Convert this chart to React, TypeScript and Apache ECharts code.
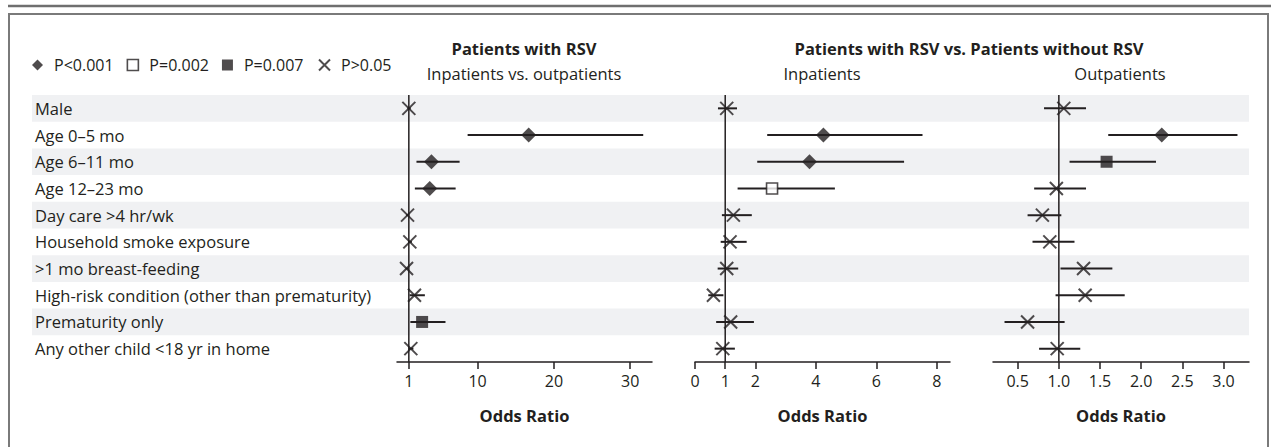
import React, { useEffect, useRef } from "react";
import * as echarts from "echarts";

const rows = [
  "Male",
  "Age 0–5 mo",
  "Age 6–11 mo",
  "Age 12–23 mo",
  "Day care >4 hr/wk",
  "Household smoke exposure",
  ">1 mo breast-feeding",
  "High-risk condition (other than prematurity)",
  "Prematurity only",
  "Any other child <18 yr in home",
];

const pNames = ["P<0.001", "P=0.002", "P=0.007", "P>0.05"];

// Panel 1: Patients with RSV, inpatients vs outpatients
const or1 = [1.0, 16.7, 3.96, 3.74, 0.83, 1.13, 0.7, 1.74, 2.74, 1.26];
const lo1 = [0.8, 8.7, 2.0, 1.79, 0.65, 0.9, 0.55, 1.1, 1.2, 1.0];
const hi1 = [1.25, 31.7, 7.65, 7.13, 1.05, 1.4, 0.9, 3.1, 5.8, 1.6];
const p1 = ["P>0.05", "P<0.001", "P<0.001", "P<0.001", "P>0.05", "P>0.05", "P>0.05", "P>0.05", "P=0.007", "P>0.05"];

// Panel 2: RSV vs no RSV, inpatients
const or2 = [1.05, 4.25, 3.79, 2.55, 1.27, 1.16, 1.05, 0.61, 1.18, 0.92];
const lo2 = [0.76, 2.39, 2.06, 1.41, 0.89, 0.85, 0.75, 0.44, 0.7, 0.65];
const hi2 = [1.39, 7.53, 6.92, 4.63, 1.88, 1.71, 1.43, 0.94, 1.95, 1.32];
const p2 = ["P>0.05", "P<0.001", "P<0.001", "P=0.002", "P>0.05", "P>0.05", "P>0.05", "P>0.05", "P>0.05", "P>0.05"];

// Panel 3: RSV vs no RSV, outpatients
const or3 = [1.06, 2.25, 1.58, 0.97, 0.8, 0.89, 1.3, 1.32, 0.62, 0.98];
const lo3 = [0.82, 1.6, 1.13, 0.7, 0.62, 0.68, 1.02, 0.96, 0.34, 0.76];
const hi3 = [1.33, 3.17, 2.18, 1.33, 1.03, 1.19, 1.65, 1.8, 1.07, 1.26];
const p3 = ["P>0.05", "P<0.001", "P=0.007", "P>0.05", "P>0.05", "P>0.05", "P>0.05", "P>0.05", "P>0.05", "P>0.05"];

const ticks1 = [1, 10, 20, 30];
const ticks2 = [0, 1, 2, 4, 6, 8];
const ticks3 = [0.5, 1.0, 1.5, 2.0, 2.5, 3.0];

const INK = "#231f20";
const FONT = "'Open Sans', 'Noto Sans', sans-serif";
const FS = 16.5;
const CROSS = "path://M0,0L12,12M12,0L0,12";

const markerStyle: Record<string, any> = {
  "P<0.001": { symbol: "diamond", symbolSize: [15, 15], itemStyle: { color: INK } },
  "P=0.002": { symbol: "rect", symbolSize: 11, itemStyle: { color: "#ffffff", borderColor: INK, borderWidth: 1.6 } },
  "P=0.007": { symbol: "rect", symbolSize: 12, itemStyle: { color: INK } },
  "P>0.05": { symbol: CROSS, symbolSize: 13, itemStyle: { color: "none", borderColor: INK, borderWidth: 2 } },
};

export default function App() {
  const ref = useRef<HTMLDivElement>(null);
  useEffect(() => {
    if (!ref.current) return;
    const chart = echarts.init(ref.current, null, { renderer: "svg" });

    const GTOP = 95;
    const GH = 267;
    const panels = [
      { or: or1, lo: lo1, hi: hi1, p: p1, ticks: ticks1, left: 397, width: 255, min: -0.55, max: 32.85, fmt: (v: number) => String(v) },
      { or: or2, lo: lo2, hi: hi2, p: p2, ticks: ticks2, left: 695, width: 255, min: 0, max: 8.44, fmt: (v: number) => String(v) },
      { or: or3, lo: lo3, hi: hi3, p: p3, ticks: ticks3, left: 993, width: 256, min: 0.2, max: 3.31, fmt: (v: number) => v.toFixed(1) },
    ];

    const grids: any[] = [{ left: 32, width: 1217, top: GTOP, height: GH }];
    const xAxes: any[] = [{ gridIndex: 0, type: "value", min: 0, max: 1, show: false }];
    const yAxes: any[] = [
      {
        gridIndex: 0,
        type: "category",
        data: rows,
        inverse: true,
        axisLine: { show: false },
        axisTick: { show: false },
        axisLabel: { inside: true, margin: 3, fontSize: FS, color: INK, fontFamily: FONT },
      },
    ];
    const series: any[] = [
      {
        type: "custom",
        xAxisIndex: 0,
        yAxisIndex: 0,
        silent: true,
        z: 0,
        data: rows.map((_, i) => [0, i]).filter((d) => d[1] % 2 === 0),
        encode: { x: 0, y: 1 },
        renderItem: (params: any, api: any) => {
          const c = api.coord([0, api.value(1)]);
          const h = api.size([0, 1])[1];
          const cs = params.coordSys;
          return { type: "rect", shape: { x: cs.x, y: c[1] - h / 2, width: cs.width, height: h }, style: { fill: "#f0f1f3" } };
        },
      },
    ];

    panels.forEach((pn, k) => {
      const gi = k + 1;
      grids.push({ left: pn.left, width: pn.width, top: GTOP, height: GH });
      xAxes.push({
        gridIndex: gi,
        type: "value",
        min: pn.min,
        max: pn.max,
        splitLine: { show: false },
        axisLine: { show: true, lineStyle: { color: INK, width: 1.5 } },
        axisTick: { show: true, customValues: pn.ticks, length: 7, lineStyle: { color: INK, width: 1.5 } },
        axisLabel: { customValues: pn.ticks, formatter: pn.fmt, fontSize: 16, color: INK, fontFamily: FONT, margin: 11 },
        name: "Odds Ratio",
        nameLocation: "middle",
        nameGap: 45,
        nameTextStyle: { fontSize: FS, fontWeight: "bold", color: INK, fontFamily: FONT },
      });
      yAxes.push({
        gridIndex: gi,
        type: "category",
        data: rows,
        inverse: true,
        show: false,
      });
      // reference line at OR = 1
      series.push({
        type: "custom",
        xAxisIndex: gi,
        yAxisIndex: gi,
        silent: true,
        z: 1,
        data: [[1, 0]],
        encode: { x: 0, y: 1 },
        renderItem: (params: any, api: any) => {
          const c = api.coord([api.value(0), 0]);
          const cs = params.coordSys;
          return { type: "line", shape: { x1: c[0], y1: cs.y, x2: c[0], y2: cs.y + cs.height }, style: { stroke: INK, lineWidth: 1.5 } };
        },
      });
      // confidence intervals
      series.push({
        type: "custom",
        xAxisIndex: gi,
        yAxisIndex: gi,
        silent: true,
        z: 2,
        data: rows.map((_, i) => [pn.lo[i], pn.hi[i], i]),
        encode: { x: [0, 1], y: 2 },
        renderItem: (params: any, api: any) => {
          const a = api.coord([api.value(0), api.value(2)]);
          const b = api.coord([api.value(1), api.value(2)]);
          return { type: "line", shape: { x1: a[0], y1: a[1], x2: b[0], y2: b[1] }, style: { stroke: INK, lineWidth: 2 } };
        },
      });
      pNames.forEach((name) => {
        const ms = markerStyle[name];
        const data = rows.map((_, i) => [pn.or[i], i]).filter((_, i) => pn.p[i] === name);
        if (!data.length) return;
        series.push({
          type: "scatter",
          name,
          xAxisIndex: gi,
          yAxisIndex: gi,
          z: 3,
          symbol: ms.symbol,
          symbolSize: ms.symbolSize,
          itemStyle: ms.itemStyle,
          data,
        });
      });
    });

    const option: any = {
      animation: false,
      backgroundColor: "#ffffff",
      textStyle: { fontFamily: FONT },
      legend: {
        left: 32,
        top: 57,
        padding: 0,
        itemWidth: 11,
        itemHeight: 11,
        itemGap: 13,
        selectedMode: false,
        textStyle: { fontSize: 16, color: INK, fontFamily: FONT, padding: [0, 0, 0, 6] },
        data: pNames.map((n) => ({ name: n, icon: markerStyle[n].symbol, itemStyle: markerStyle[n].itemStyle })),
      },
      grid: grids,
      xAxis: xAxes,
      yAxis: yAxes,
      series,
      graphic: [
        { type: "line", silent: true, shape: { x1: 8, y1: 6, x2: 1271, y2: 6 }, style: { stroke: "#6f6f6f", lineWidth: 2.5 } },
        { type: "rect", silent: true, shape: { x: 9, y: 14, width: 1259, height: 440 }, style: { fill: "none", stroke: "#7a7a7a", lineWidth: 2 } },
        { type: "text", silent: true, x: 524, y: 48, style: { text: "Patients with RSV", align: "center", verticalAlign: "middle", fontSize: FS, fontWeight: "bold", fill: INK, fontFamily: FONT } },
        { type: "text", silent: true, x: 524, y: 73, style: { text: "Inpatients vs. outpatients", align: "center", verticalAlign: "middle", fontSize: FS, fill: INK, fontFamily: FONT } },
        { type: "text", silent: true, x: 969, y: 48, style: { text: "Patients with RSV vs. Patients without RSV", align: "center", verticalAlign: "middle", fontSize: FS, fontWeight: "bold", fill: INK, fontFamily: FONT } },
        { type: "text", silent: true, x: 822, y: 73, style: { text: "Inpatients", align: "center", verticalAlign: "middle", fontSize: FS, fill: INK, fontFamily: FONT } },
        { type: "text", silent: true, x: 1120, y: 73, style: { text: "Outpatients", align: "center", verticalAlign: "middle", fontSize: FS, fill: INK, fontFamily: FONT } },
      ],
    };
    chart.setOption(option);
    return () => chart.dispose();
  }, []);
  return <div ref={ref} style={{ position: "fixed", left: 0, top: 0, width: 1271, height: 447 }} />;
}
